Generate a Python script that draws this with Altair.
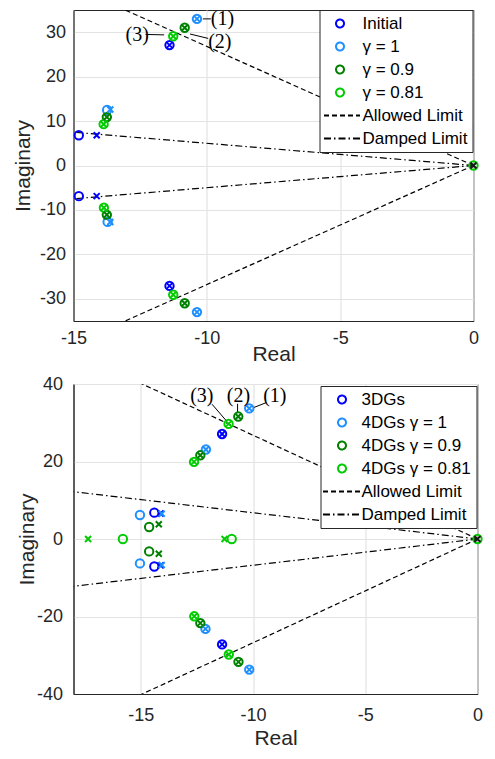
import altair as alt
import pandas as pd

# ---------------- data ----------------
top_series = ["Initial", "γ = 1", "γ = 0.9", "γ = 0.81"]
bot_series = ["3DGs", "4DGs γ = 1", "4DGs γ = 0.9", "4DGs γ = 0.81"]
line_series = ["Allowed Limit", "Damped Limit"]
series_colors = ["#0000FF", "#1E90FF", "#008000", "#00CC00", "#000000", "#000000"]

# top panel: zeros (o) and poles (x), complex values re + im j
top_zeros_initial = [-14.8 + 6.8j, -14.8 - 6.9j, -11.4 + 27.1j, -11.4 - 27.1j]
top_zeros_g1 = [-10.37 + 33.0j, -10.37 - 33.0j, -13.74 + 12.5j, -13.72 - 12.7j]
top_zeros_g09 = [-10.83 + 31.0j, -10.83 - 31.0j, -13.75 + 10.9j, -13.75 - 11.1j]
top_zeros_g081 = [-11.26 + 29.1j, -11.26 - 29.1j, -13.87 + 9.3j, -13.86 - 9.5j, 0 + 0j]
top_poles_initial = [-14.13 + 6.8j, -14.13 - 6.9j, -11.4 + 27.1j, -11.4 - 27.1j]
top_poles_g1 = [-10.37 + 33.0j, -10.37 - 33.0j, -13.62 + 12.6j, -13.62 - 12.7j]
top_poles_g09 = [-10.83 + 31.0j, -10.83 - 31.0j, -13.75 + 10.9j, -13.75 - 11.1j]
top_poles_g081 = [-11.26 + 29.1j, -11.26 - 29.1j, -13.87 + 9.3j, -13.86 - 9.5j]
top_origin_pole = [0 + 0j]

# bottom panel
bot_zeros_3dg = [-11.38 + 27.1j, -11.38 - 27.2j, -14.4 + 6.8j, -14.4 - 7.1j]
bot_zeros_g1 = [-10.17 + 33.7j, -10.17 - 33.7j, -12.1 + 23.1j, -12.12 - 23.2j,
                -15.04 + 6.2j, -15.04 - 6.3j]
bot_zeros_g09 = [-10.66 + 31.6j, -10.65 - 31.7j, -12.35 + 21.6j, -12.35 - 21.7j,
                 -14.63 + 3.1j, -14.63 - 3.2j]
bot_zeros_g081 = [-11.09 + 29.7j, -11.08 - 29.8j, -12.63 + 19.9j, -12.62 - 19.95j,
                  -15.8 + 0j, -10.95 + 0j, 0 + 0j]
bot_poles_3dg = [-11.38 + 27.1j, -11.38 - 27.2j, -14.12 + 6.6j, -14.12 - 6.8j]
bot_poles_g1 = [-10.17 + 33.7j, -10.17 - 33.7j, -12.1 + 23.1j, -12.12 - 23.2j,
                -14.07 + 6.5j, -14.07 - 6.7j]
bot_poles_g09 = [-10.66 + 31.6j, -10.65 - 31.7j, -12.35 + 21.6j, -12.35 - 21.7j,
                 -14.2 + 3.8j, -14.2 - 3.8j]
bot_poles_g081 = [-11.09 + 29.7j, -11.08 - 29.8j, -12.63 + 19.9j, -12.62 - 19.95j,
                  -17.35 + 0j, -11.27 + 0j]
bot_origin_pole = [0 + 0j]

# limit lines (end points, from origin)
top_allowed_end = [-15 + 40.2j, -15 - 40.2j]
top_damped_end = [-15 + 7.5j, -15 - 7.5j]
bot_allowed_end = [-18 + 48.2j, -18 - 48.2j]
bot_damped_end = [-18 + 12.2j, -18 - 12.2j]

# annotation labels and leader lines
ann_labels = ["(1)", "(2)", "(3)"]
top_ann_pos = [-9.85 + 33.0j, -9.95 + 27.8j, -13.05 + 29.4j]
top_ann_lines = [(-10.15 + 33.0j, -9.85 + 33.0j), (-10.63 + 29.6j, -9.95 + 28.6j),
                 (-12.3 + 29.5j, -11.6 + 29.4j)]
bot_ann_pos = [-9.55 + 36.9j, -11.17 + 36.9j, -12.8 + 36.9j]
bot_ann_lines = [(-9.41 + 35.2j, -9.98 + 33.9j), (-10.69 + 34.9j, -10.69 + 32.6j),
                 (-11.83 + 34.8j, -11.19 + 30.5j)]

FONT = "Liberation Sans"
SERIF = "Liberation Serif"
TXT = "#262626"
NEG_LABEL = "datum.value < 0 ? '-' + abs(datum.value) : '' + datum.value"


def pts(values, series):
    return pd.DataFrame({"re": [v.real for v in values], "im": [v.imag for v in values],
                         "series": series})


def panel(series, zeros, poles, origin_pole, allowed, damped, ann_pos, ann_lines,
          xdom, ydom, yticks, width, height, lay):
    domain = series + line_series
    zdf = pd.concat([pts(z, s) for z, s in zip(zeros, series)], ignore_index=True)
    pdf = pd.concat([pts(p, s) for p, s in zip(poles, series)], ignore_index=True)
    odf = pts(origin_pole, "origin")
    rows = []
    for name, ends in zip(line_series, [allowed, damped]):
        for k, e in enumerate(ends):
            rows.append({"re": 0.0, "im": 0.0, "series": name, "branch": k, "o": 0})
            rows.append({"re": e.real, "im": e.imag, "series": name, "branch": k, "o": 1})
    ldf = pd.DataFrame(rows)
    adf = pd.DataFrame({"re": [v.real for v in ann_pos], "im": [v.imag for v in ann_pos],
                        "label": ann_labels})
    aldf = pd.DataFrame({"re": [a.real for a, b in ann_lines], "im": [a.imag for a, b in ann_lines],
                         "re2": [b.real for a, b in ann_lines], "im2": [b.imag for a, b in ann_lines]})

    xs = alt.Scale(domain=xdom, nice=False, zero=False)
    ys = alt.Scale(domain=ydom, nice=False, zero=False)
    xax = alt.Axis(values=[-15, -10, -5, 0], title="Real", grid=True, labelExpr=NEG_LABEL,
                   labelFlush=False, labelPadding=lay["xlp"], titleY=lay["xty"],
                   titleBaseline="middle")
    yax = alt.Axis(values=yticks, title="Imaginary", grid=True, labelExpr=NEG_LABEL,
                   labelFlush=False, labelPadding=lay["ylp"], titleX=lay["ytx"],
                   titleBaseline="middle")
    X = alt.X("re:Q", scale=xs, axis=xax)
    Y = alt.Y("im:Q", scale=ys, axis=yax)

    leg = alt.Legend(title=None, orient="none", legendX=lay["lx"], legendY=lay["ly"],
                     symbolOffset=lay["so"], labelOffset=lay["lo"], labelFontSize=17,
                     labelFont=FONT)
    color = alt.Color("series:N", scale=alt.Scale(domain=domain, range=series_colors), legend=leg)
    shape = alt.Shape("series:N", scale=alt.Scale(
        domain=domain, range=["circle"] * 4 + [lay["path"], lay["path"]]), legend=leg)
    dash = alt.StrokeDash("series:N", scale=alt.Scale(
        domain=domain, range=[[1, 0]] * 4 + [[5, 3], [7, 3, 1.5, 3]]), legend=leg)

    lines = alt.Chart(ldf).mark_line(strokeWidth=1.2, clip=True).encode(
        x=X, y=Y, color=color, strokeDash=dash, detail="branch:N", order="o:Q")
    circles = alt.Chart(zdf).mark_point(filled=False, size=70, strokeWidth=2, opacity=1).encode(
        x=X, y=Y, color=color, shape=shape)
    crosses = alt.Chart(pdf).mark_point(
        shape="M-1,-1L1,1M-1,1L1,-1", filled=False, size=36, strokeWidth=2, opacity=1).encode(
        x=X, y=Y, color=alt.Color("series:N", scale=alt.Scale(domain=domain, range=series_colors),
                                  legend=None))
    ocross = alt.Chart(odf).mark_point(
        shape="M-1,-1L1,1M-1,1L1,-1", filled=False, size=36, strokeWidth=2, opacity=1,
        color="#1a1a1a").encode(x=X, y=Y)
    ann_l = alt.Chart(aldf).mark_rule(color="black", strokeWidth=1).encode(
        x=X, y=Y, x2="re2:Q", y2="im2:Q")
    ann_t = alt.Chart(adf).mark_text(font=SERIF, fontSize=20, align="left", baseline="middle",
                                     color="black").encode(x=X, y=Y, text="label:N")
    return alt.layer(lines, ann_l, circles, crosses, ocross, ann_t).properties(
        width=width, height=height)


top = panel(top_series,
            [top_zeros_initial, top_zeros_g1, top_zeros_g09, top_zeros_g081],
            [top_poles_initial, top_poles_g1, top_poles_g09, top_poles_g081],
            top_origin_pole, top_allowed_end, top_damped_end, top_ann_pos, top_ann_lines,
            [-15, 0], [-35, 35], [-30, -20, -10, 0, 10, 20, 30], 400, 311,
            dict(xlp=8, xty=33, ylp=8, ytx=-50, so=7, lo=14, path="M-4,0H5",
                 lx=246, ly=0))
bot = panel(bot_series,
            [bot_zeros_3dg, bot_zeros_g1, bot_zeros_g09, bot_zeros_g081],
            [bot_poles_3dg, bot_poles_g1, bot_poles_g09, bot_poles_g081],
            bot_origin_pole, bot_allowed_end, bot_damped_end, bot_ann_pos, bot_ann_lines,
            [-18, 0], [-40, 40], [-40, -20, 0, 20, 40], 404, 310,
            dict(xlp=12, xty=44, ylp=11, ytx=-46, so=8, lo=11, path="M-4.75,0H4.5",
                 lx=247, ly=2))

chart = alt.vconcat(top, bot, spacing=9).resolve_scale(
    x="independent", y="independent", color="independent", shape="independent",
    strokeDash="independent").resolve_legend(
    color="independent", shape="independent", strokeDash="independent").configure(
    padding={"left": 3.5, "top": 0, "right": 0, "bottom": 0}, background="white"
).configure_view(stroke=TXT, strokeWidth=1).configure_axis(
    labelFont=FONT, labelFontSize=18, labelColor=TXT, titleFont=FONT, titleFontSize=21,
    titleColor=TXT, titleFontWeight="normal", domainColor=TXT, ticks=False,
    gridColor="#e3e3e3", gridWidth=1.2
).configure_legend(
    labelFont=FONT, labelFontSize=17, labelColor="black", fillColor="white", strokeColor=TXT,
    padding=5, rowPadding=5, symbolSize=64, symbolStrokeWidth=2,
    cornerRadius=0, symbolType="circle", labelLimit=300
)

chart.save("out.html", embed_options={"renderer": "svg", "actions": False})
